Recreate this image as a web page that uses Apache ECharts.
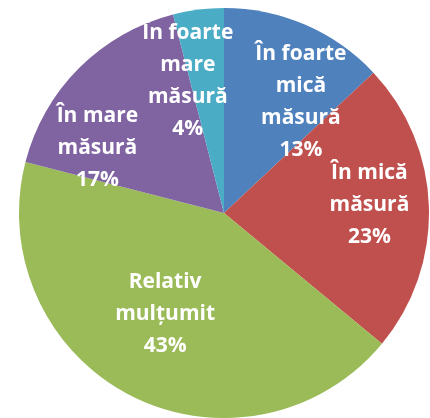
<!DOCTYPE html>
<html>
<head>
<meta charset="utf-8">
<script src="https://cdn.jsdelivr.net/npm/echarts@6/dist/echarts.min.js"></script>
<style>html,body{margin:0;padding:0;background:#fff}#c{width:430px;height:418px}</style>
</head>
<body>
<div id="c"></div>
<script>
const categories = ['În foarte\nmică\nmăsură', 'În mică\nmăsură', 'Relativ\nmulțumit', 'În mare\nmăsură', 'În foarte\nmare\nmăsură'];
const values = [13, 23, 43, 17, 4];
const colors = ['#4F81BD', '#C0504D', '#9BBB59', '#8064A2', '#4BACC6'];
const labelShift = [[35, -14], [40, -5], [-11, 7], [-52, 10], [-23, -27]];

const chart = echarts.init(document.getElementById('c'), null, {renderer: 'canvas'});
chart.setOption({
  animation: false,
  series: [{
    type: 'pie',
    center: [224, 213],
    radius: 205,
    startAngle: 90,
    clockwise: true,
    data: categories.map((n, i) => ({name: n, value: values[i], itemStyle: {color: colors[i]}})),
    itemStyle: {borderWidth: 0},
    label: {
      show: true,
      position: 'inside',
      formatter: '{b}\n{c}%',
      color: '#fff',
      fontFamily: 'Open Sans',
      fontWeight: 'bold',
      fontSize: 21,
      lineHeight: 32,
      align: 'center'
    },
    labelLine: {show: false},
    labelLayout: function (p) {
      const s = labelShift[p.dataIndex];
      return {dx: s[0], dy: s[1]};
    },
    emphasis: {disabled: true}
  }]
});
</script>
</body>
</html>
